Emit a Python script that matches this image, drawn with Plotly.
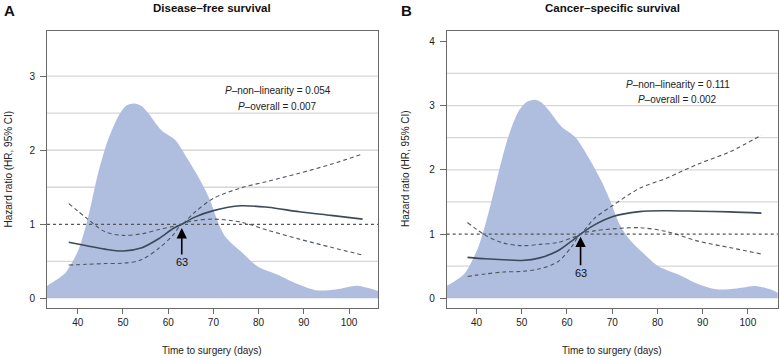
import plotly.graph_objects as go

# ---------------- data ----------------
X_TICKS = [40, 50, 60, 70, 80, 90, 100]
Y_TICKS_A = [0, 1, 2, 3]
Y_TICKS_B = [0, 1, 2, 3, 4]
GRID_A = [0.5, 1.5, 2, 2.5, 3]
GRID_B = [0.5, 1.5, 2, 2.5, 3, 3.5]
REF_HR = 1
REF_DAY = 63

# distribution of time to surgery (scaled density), panel A
DENS_DAYS_A = [33, 35, 37.2, 40.1, 42.3, 44.5, 46.7, 48.9, 50.7, 52.5, 54, 55.6, 58.5, 61.5,
               64.4, 67.2, 69.2, 71.4, 72.9, 76.5, 79.8, 84.6, 88.3, 92.7, 97.1, 101.6, 104.5, 106.8]
DENS_A = [0.16, 0.24, 0.34, 0.65, 1.10, 1.69, 2.14, 2.45, 2.60, 2.63, 2.60, 2.50, 2.27, 2.14,
          1.87, 1.58, 1.33, 0.97, 0.81, 0.61, 0.43, 0.31, 0.20, 0.11, 0.12, 0.17, 0.135, 0.09]

# panel B
DENS_DAYS_B = [33, 35, 37.4, 40.4, 42.6, 44.8, 47.0, 49.2, 51, 52.8, 54.3, 55.9, 58.8, 61.8,
               64.7, 67.5, 69.5, 71.7, 73.9, 76.9, 80.2, 85.0, 88.7, 93.1, 97.6, 102.0, 104.9, 106.8]
DENS_B = [0.18, 0.26, 0.39, 0.80, 1.32, 1.94, 2.51, 2.90, 3.05, 3.09, 3.05, 2.93, 2.67, 2.51,
          2.20, 1.84, 1.53, 1.14, 0.91, 0.70, 0.50, 0.36, 0.23, 0.14, 0.155, 0.19, 0.14, 0.08]

# hazard ratio curves
HR_DAYS = [38, 42, 46, 50, 54, 58, 61, 63, 66, 70, 76, 82, 89, 96, 103]
HR_A = [0.757, 0.71, 0.665, 0.64, 0.68, 0.81, 0.94, 1.0, 1.10, 1.185, 1.25, 1.23, 1.17, 1.12, 1.07]
HI_A = [1.28, 1.08, 0.90, 0.85, 0.87, 0.93, 0.97, 1.0, 1.17, 1.35, 1.49, 1.58, 1.69, 1.81, 1.95]
LO_A = [0.45, 0.46, 0.47, 0.475, 0.52, 0.68, 0.85, 1.0, 1.05, 1.07, 1.03, 0.92, 0.80, 0.69, 0.585]

HR_B = [0.637, 0.615, 0.60, 0.59, 0.63, 0.74, 0.89, 1.0, 1.14, 1.27, 1.35, 1.363, 1.355, 1.345, 1.326]
HI_B = [1.18, 0.98, 0.86, 0.82, 0.84, 0.87, 0.94, 1.0, 1.24, 1.44, 1.71, 1.87, 2.09, 2.28, 2.54]
LO_B = [0.34, 0.38, 0.41, 0.42, 0.46, 0.57, 0.80, 1.0, 1.05, 1.08, 1.10, 1.04, 0.89, 0.79, 0.69]

TITLES = ["Disease\u2013free survival", "Cancer\u2013specific survival"]
LETTERS = ["A", "B"]
P_NONLIN = ["0.054", "0.111"]
P_OVERALL = ["0.007", "0.002"]

# ---------------- style ----------------
FONT = "Liberation Sans, Arial, sans-serif"
FILL = "#afbddf"
SOLID = "#3b4a5a"
DASH = "#4f5861"
AXIS = "#6a6a6a"
GRID = "#d6d6d6"

fig = go.Figure()

panels = [
    dict(xa="x", ya="y", dx=DENS_DAYS_A, dy=DENS_A, hr=HR_A, hi=HI_A, lo=LO_A),
    dict(xa="x2", ya="y2", dx=DENS_DAYS_B, dy=DENS_B, hr=HR_B, hi=HI_B, lo=LO_B),
]

for p in panels:
    fig.add_trace(go.Scatter(x=p["dx"], y=p["dy"], mode="lines", line=dict(width=0, color=FILL, shape="spline", smoothing=0.8),
                             fill="tozeroy", fillcolor=FILL, xaxis=p["xa"], yaxis=p["ya"], hoverinfo="skip"))
    for arr in (p["hi"], p["lo"]):
        fig.add_trace(go.Scatter(x=HR_DAYS, y=arr, mode="lines",
                                 line=dict(color=DASH, width=1.1, dash="4px,3px", shape="spline", smoothing=0.9),
                                 xaxis=p["xa"], yaxis=p["ya"]))
    fig.add_trace(go.Scatter(x=HR_DAYS, y=p["hr"], mode="lines",
                             line=dict(color=SOLID, width=1.6, shape="spline", smoothing=0.9),
                             xaxis=p["xa"], yaxis=p["ya"]))

shapes = []
for ya, xd, grid in (("y", "x domain", GRID_A), ("y2", "x2 domain", GRID_B)):
    for g in grid:
        shapes.append(dict(type="line", xref=xd, yref=ya, x0=0, x1=1, y0=g, y1=g,
                           line=dict(color=GRID, width=1.3), layer="below"))
    shapes.append(dict(type="line", xref=xd, yref=ya, x0=0, x1=1, y0=REF_HR, y1=REF_HR,
                       line=dict(color="#555555", width=1.2, dash="dot"), layer="above"))

axis_common = dict(ticks="outside", tickcolor=AXIS, showline=True, linecolor=AXIS, linewidth=1,
                   mirror=True, showgrid=False, zeroline=False,
                   tickfont=dict(family=FONT, size=10, color="#222222"))

fig.update_layout(
    width=780, height=358, margin=dict(l=0, r=0, t=0, b=0),
    paper_bgcolor="white", plot_bgcolor="white", showlegend=False,
    font=dict(family=FONT, color="#222222"),
    shapes=shapes,
    xaxis=dict(domain=[0.0603, 0.4846], range=[33.2, 106.4], tickvals=X_TICKS, ticklen=5, anchor="y", **axis_common),
    yaxis=dict(domain=[0.1397, 0.9134], range=[-0.13, 3.61], tickvals=Y_TICKS_A, ticklen=6, anchor="x",
               ticklabelstandoff=3, **axis_common),
    xaxis2=dict(domain=[0.5727, 0.9971], range=[33.4, 106.6], tickvals=X_TICKS, ticklen=5, anchor="y2", **axis_common),
    yaxis2=dict(domain=[0.1397, 0.9134], range=[-0.15, 4.16], tickvals=Y_TICKS_B, ticklen=6, anchor="x2",
                ticklabelstandoff=3, **axis_common),
)

ann = []
centers = [212.5, 612.2]
ytitle_x = [7.5, 405]
p_pos = [dict(x=84.2, y1=2.80, y2=2.585), dict(x=84.5, y1=3.32, y2=3.10)]
arrow = [dict(tip=0.95, txt=0.49), dict(tip=0.96, txt=0.40)]
for i, (xa, ya) in enumerate((("x", "y"), ("x2", "y2"))):
    # letter
    ann.append(dict(text="<b>%s</b>" % LETTERS[i], xref="paper", yref="paper",
                    x=(9 if i == 0 else 406.5) / 780, y=1 - 10 / 358, xanchor="center", yanchor="middle",
                    showarrow=False, font=dict(family=FONT, size=15, color="#111111")))
    # title
    ann.append(dict(text="<b>%s</b>" % TITLES[i], xref="paper", yref="paper",
                    x=centers[i] / 780, y=1 - 8 / 358, xanchor="center", yanchor="middle",
                    showarrow=False, font=dict(family=FONT, size=11.5, color="#111111")))
    # x-axis title
    ann.append(dict(text="Time to surgery (days)", xref="paper", yref="paper",
                    x=centers[i] / 780, y=1 - 350 / 358, xanchor="center", yanchor="middle",
                    showarrow=False, font=dict(family=FONT, size=10, color="#222222")))
    # y-axis title
    ann.append(dict(text="Hazard ratio (HR, 95% CI)", xref="paper", yref="paper",
                    x=ytitle_x[i] / 780, y=1 - 169 / 358, xanchor="center", yanchor="middle", textangle=-90,
                    showarrow=False, font=dict(family=FONT, size=10, color="#222222")))
    # p-values
    ann.append(dict(text="<i>P</i>\u2013non\u2013linearity = %s" % P_NONLIN[i], xref=xa, yref=ya,
                    x=p_pos[i]["x"], y=p_pos[i]["y1"], xanchor="center", yanchor="middle",
                    showarrow=False, font=dict(family=FONT, size=10, color="#222222")))
    ann.append(dict(text="<i>P</i>\u2013overall = %s" % P_OVERALL[i], xref=xa, yref=ya,
                    x=p_pos[i]["x"], y=p_pos[i]["y2"], xanchor="center", yanchor="middle",
                    showarrow=False, font=dict(family=FONT, size=10, color="#222222")))
    # arrow to reference day
    ann.append(dict(text=str(REF_DAY), xref=xa, yref=ya, x=REF_DAY, y=arrow[i]["tip"],
                    axref=xa, ayref=ya, ax=REF_DAY, ay=arrow[i]["txt"],
                    showarrow=True, arrowhead=2, arrowsize=1.3, arrowwidth=1.6, arrowcolor="#000000",
                    font=dict(family=FONT, size=11, color="#111111")))

fig.update_layout(annotations=ann)
fig.write_html("out.html")
